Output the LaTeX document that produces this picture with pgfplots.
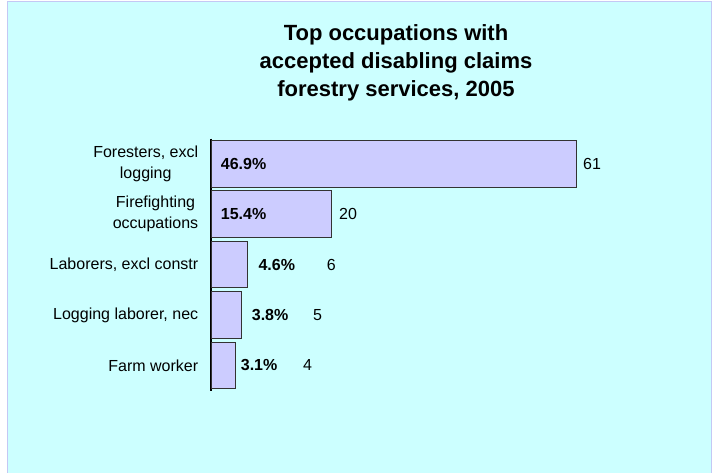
\documentclass[border=0pt]{standalone}
\usepackage{pgfplots}
\pgfplotsset{compat=1.18}
\usepackage{pgfplotstable}
\usepackage{fontspec}
\setmainfont{Liberation Sans}

\definecolor{bgcyan}{HTML}{CCFFFF}
\definecolor{barfill}{HTML}{CCCCFF}
\definecolor{framecol}{HTML}{C4C8F4}

% claims per occupation (category 0 = top row)
\pgfplotstableread{
x  y
61 0
20 1
6  2
5  3
4  4
}\claims

% percentage labels (x = where the label starts)
\pgfplotstableread{
x    y label
1.56 0 46.9\%
1.56 1 15.4\%
7.85 2 4.6\%
6.74 3 3.8\%
4.90 4 3.1\%
}\pcts

% count labels
\pgfplotstableread{
x     y label
62.17 0 61
21.35 1 20
19.29 2 6
17.00 3 5
15.33 4 4
}\counts

\begin{document}
\begin{tikzpicture}
\path[use as bounding box] (0,0) rectangle (712bp,-473bp);
\fill[white] (0,0) rectangle (712bp,-473bp);
\fill[bgcyan] (7bp,-1bp) rectangle (711bp,-473bp);
\draw[framecol, line width=1bp] (7bp,-473bp) -- (7bp,-1bp) -- (711bp,-1bp) -- (711bp,-473bp);

\node[font=\bfseries\fontsize{22bp}{26bp}\selectfont, anchor=base, inner sep=0pt] at (396bp,-40.7bp) {Top occupations with};
\node[font=\bfseries\fontsize{22bp}{26bp}\selectfont, anchor=base, inner sep=0pt] at (396bp,-68.2bp) {accepted disabling claims};
\node[font=\bfseries\fontsize{22bp}{26bp}\selectfont, anchor=base, inner sep=0pt] at (396bp,-96.5bp) {forestry services, 2005};

\begin{axis}[
    at={(211.4bp,-390.5bp)}, anchor=south west,
    scale only axis,
    width=418.4bp, height=252bp,
    xmin=0, xmax=70,
    ymin=-0.5, ymax=4.5,
    y dir=reverse,
    axis x line=none,
    axis y line*=left,
    axis line style={black, line width=2bp},
    ytick={0,1,2,3,4},
    yticklabels={{Foresters, excl\\logging},{Firefighting\\occupations},{Laborers, excl constr},{Logging laborer, nec},{Farm worker}},
    ytick style={draw=none},
    major tick length=0pt,
    yticklabel style={font=\fontsize{16bp}{21.5bp}\selectfont, align=center, inner sep=0pt, xshift=-13bp},
    clip=false,
]
\addplot[xbar, bar width=46.5bp, fill=barfill, draw=black!80, line width=0.8bp] table[x=x, y=y] {\claims};
\addplot[draw=none, mark=none, nodes near coords, point meta=explicit symbolic,
    nodes near coords style={anchor=west, inner sep=0pt, font=\bfseries\fontsize{16bp}{20bp}\selectfont}]
    table[x=x, y=y, meta=label] {\pcts};
\addplot[draw=none, mark=none, nodes near coords, point meta=explicit symbolic,
    nodes near coords style={anchor=west, inner sep=0pt, font=\fontsize{16bp}{20bp}\selectfont}]
    table[x=x, y=y, meta=label] {\counts};
\end{axis}
\end{tikzpicture}
\end{document}
